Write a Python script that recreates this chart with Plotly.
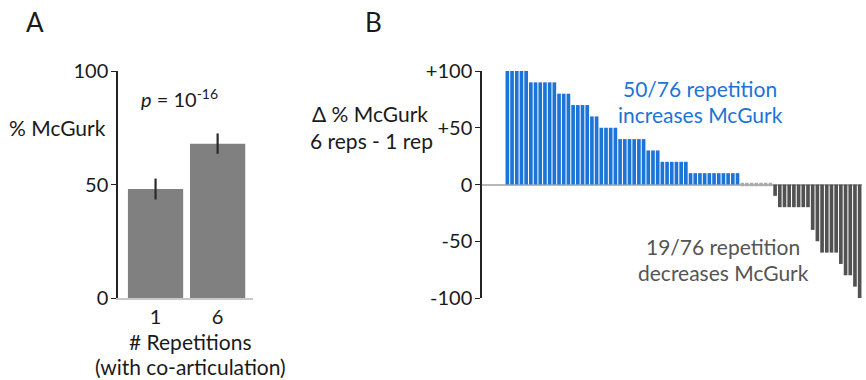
import plotly.graph_objects as go

# Panel A data
reps_labels = ["1", "6"]
mcgurk_pct = [48, 68]
mcgurk_err = [4.6, 4.5]

# Panel B data (per-subject change, 6 reps - 1 rep), sorted
delta = [100, 100, 100, 100, 100,
         90, 90, 90, 90, 90, 90,
         80, 80, 80,
         70, 70, 70, 70,
         60, 60,
         50, 50, 50, 50,
         40, 40, 40, 40, 40, 40,
         30, 30, 30,
         20, 20, 20, 20, 20, 20,
         10, 10, 10, 10, 10, 10, 10, 10, 10, 10, 10,
         0, 0, 0, 0, 0, 0, 0,
         -10,
         -20, -20, -20, -20, -20, -20, -20,
         -40,
         -50,
         -60, -60, -60, -60,
         -70,
         -80, -80,
         -90,
         -100]
b_ticks = [100, 50, 0, -50, -100]
b_ticktext = ["+100", "+50", "0", "-50", "-100"]

BLUE = "#1c74d9"
DARK = "#525252"
FONT = "Lato"
TXT = "#1a1a1a"

subj = list(range(len(delta)))
pos_x = [i for i, v in zip(subj, delta) if v > 0]
pos_y = [v for v in delta if v > 0]
neg_x = [i for i, v in zip(subj, delta) if v < 0]
neg_y = [v for v in delta if v < 0]
zero_x = [i for i, v in zip(subj, delta) if v == 0]
zero_y = [v for v in delta if v == 0]

fig = go.Figure()

fig.add_trace(go.Bar(
    x=[0, 1], y=mcgurk_pct, xaxis="x", yaxis="y",
    marker=dict(color="#808080", line=dict(width=0)),
    error_y=dict(type="data", array=mcgurk_err, color="#2a2a2a", thickness=2.2, width=0),
    showlegend=False, hoverinfo="skip"))

fig.add_trace(go.Bar(x=pos_x, y=pos_y, xaxis="x2", yaxis="y2", width=0.78,
                     marker=dict(color=BLUE, line=dict(width=0)), showlegend=False))
fig.add_trace(go.Bar(x=neg_x, y=neg_y, xaxis="x2", yaxis="y2", width=0.78,
                     marker=dict(color=DARK, line=dict(width=0)), showlegend=False))
fig.add_trace(go.Scatter(x=zero_x, y=zero_y, xaxis="x2", yaxis="y2", mode="markers",
                         marker=dict(color="#aaaaaa", size=3.5, symbol="square"),
                         showlegend=False))

TF = dict(size=20, family=FONT, color=TXT)
fig.update_layout(
    width=866, height=380,
    margin=dict(l=0, r=0, t=71, b=82),
    paper_bgcolor="white", plot_bgcolor="white",
    font=dict(family=FONT, size=20, color=TXT),
    bargap=0.11,
    xaxis=dict(domain=[118/866, 253/866], range=[-0.605, 1.57],
               tickvals=[0, 1], ticktext=reps_labels, ticks="",
               showline=True, linecolor="#c8c8c8", linewidth=1.5,
               showgrid=False, zeroline=False, tickfont=TF),
    yaxis=dict(range=[0, 100], tickvals=[0, 50, 100], ticks="outside", ticklen=5,
               tickcolor="#222", tickwidth=1.3, showline=True, linecolor="#222",
               linewidth=1.5, showgrid=False, zeroline=False, tickfont=TF,
               ticklabelstandoff=-1),
    xaxis2=dict(domain=[482/866, 862/866], range=[-5.4, 75.5], visible=False),
    yaxis2=dict(anchor="x2", range=[-100, 100], tickvals=b_ticks, ticktext=b_ticktext,
                ticks="outside", ticklen=5, tickcolor="#222", tickwidth=1.3,
                showline=True, linecolor="#222", linewidth=1.5, showgrid=False,
                zeroline=True, zerolinecolor="#b8b8b8", zerolinewidth=1.5,
                tickfont=TF, ticklabelstandoff=-1),
)

ann = [
    dict(text="A", x=35, y=22, size=26, color=TXT),
    dict(text="B", x=373, y=22, size=26, color=TXT),
    dict(text="% McGurk", x=57, y=128, size=21, color=TXT),
    dict(text="<i>p</i> = 10<sup>-16</sup>", x=179, y=98, size=20, color=TXT),
    dict(text="# Repetitions", x=190, y=341, size=21, color=TXT),
    dict(text="(with co-articulation)", x=190, y=366, size=21, color=TXT),
    dict(text="Δ % McGurk", x=370, y=113, size=21, color=TXT),
    dict(text="6 reps - 1 rep", x=371, y=140, size=21, color=TXT),
    dict(text="50/76 repetition", x=700, y=88, size=21, color=BLUE),
    dict(text="increases McGurk", x=700, y=115, size=21, color=BLUE),
    dict(text="19/76 repetition", x=723, y=246, size=21, color="#555555"),
    dict(text="decreases McGurk", x=723, y=272, size=21, color="#555555"),
]
for a in ann:
    fig.add_annotation(text=a["text"], x=a["x"]/866, y=(298 - a["y"])/227,
                       xref="paper", yref="paper",
                       xanchor="center", yanchor="middle", showarrow=False,
                       font=dict(family=FONT, size=a["size"], color=a["color"]))

fig.write_html("out.html")
